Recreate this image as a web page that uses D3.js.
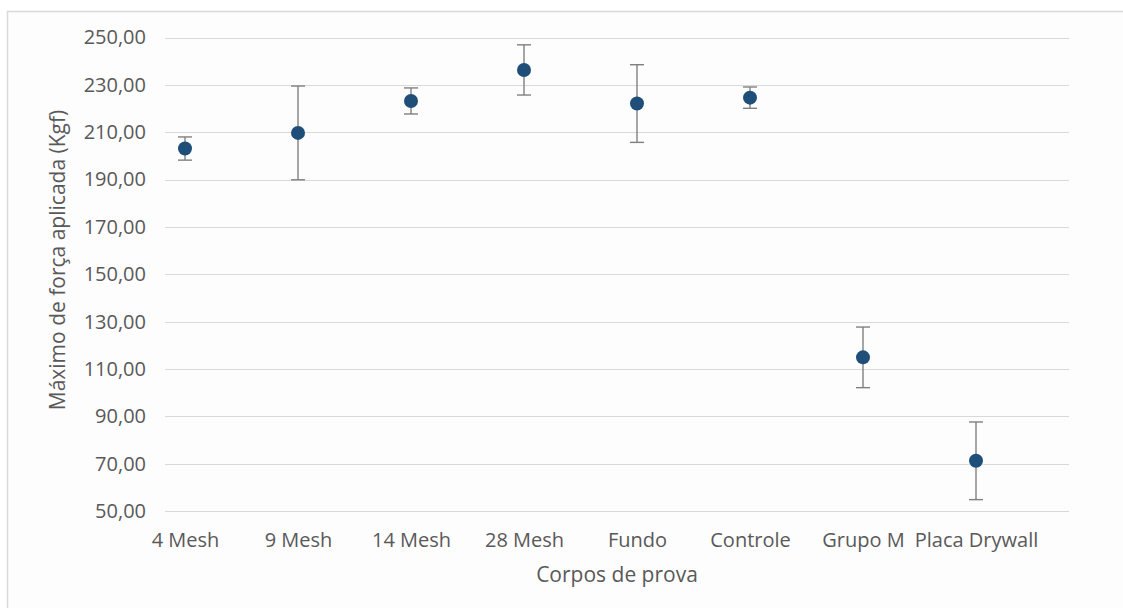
<!DOCTYPE html>
<html>
<head>
<meta charset="utf-8">
<script src="https://cdn.jsdelivr.net/npm/d3@7"></script>
<style>
  html, body { margin: 0; padding: 0; background: #ffffff; }
  svg text { font-family: "Open Sans", "Liberation Sans", sans-serif; fill: #595959; }
</style>
</head>
<body>
<svg id="chart" width="1123" height="608"></svg>
<script>
// Test specimens and their peak applied force (mean ± standard deviation)
const categories = ["4 Mesh", "9 Mesh", "14 Mesh", "28 Mesh", "Fundo", "Controle", "Grupo M", "Placa Drywall"];
const means = [203.1, 209.7, 223.2, 236.3, 222.1, 224.6, 114.9, 71.2];
const errors = [4.9, 19.8, 5.5, 10.6, 16.4, 4.5, 12.8, 16.4];
const yTicks = [50, 70, 90, 110, 130, 150, 170, 190, 210, 230, 250];

const svg = d3.select("#chart");

// chart frame
svg.append("rect")
  .attr("x", 7.5).attr("y", 11.5)
  .attr("width", 1130).attr("height", 610)
  .attr("fill", "#fdfdfd")
  .attr("stroke", "#d9d9d9").attr("stroke-width", 1.5);

const plotLeft = 165, plotRight = 1069;
const y = d3.scaleLinear().domain([50, 250]).range([511, 37.5]);
const x = d3.scalePoint().domain(categories).range([185, 976]);

// horizontal gridlines
svg.append("g").selectAll("line").data(yTicks).join("line")
  .attr("x1", plotLeft).attr("x2", plotRight)
  .attr("y1", d => Math.round(y(d)) + 0.5).attr("y2", d => Math.round(y(d)) + 0.5)
  .attr("stroke", "#d9d9d9").attr("stroke-width", 1.2);

const fmt = d => d.toFixed(2).replace(".", ",");

// y axis labels
const yAxis = d3.axisLeft(y).tickValues(yTicks).tickFormat(fmt).tickSize(0).tickPadding(0);
svg.append("g").attr("transform", "translate(146,0)").call(yAxis)
  .call(g => g.select(".domain").remove())
  .selectAll("text")
  .style("font-size", "20px");

// x axis labels
const xAxis = d3.axisBottom(x).tickSize(0).tickPadding(0);
svg.append("g").attr("transform", "translate(0,533)").call(xAxis)
  .call(g => g.select(".domain").remove())
  .selectAll("text")
  .style("font-size", "20px");

svg.selectAll(".tick text").attr("fill", "#595959").style("font-family", "'Open Sans', sans-serif");

// error bars
const eb = svg.append("g").attr("stroke", "#808080").attr("stroke-width", 1.4);
categories.forEach((c, i) => {
  const cx = x(c);
  const top = y(means[i] + errors[i]);
  const bot = y(means[i] - errors[i]);
  eb.append("line").attr("x1", cx).attr("x2", cx).attr("y1", top).attr("y2", bot);
  eb.append("line").attr("x1", cx - 7).attr("x2", cx + 7).attr("y1", top).attr("y2", top);
  eb.append("line").attr("x1", cx - 7).attr("x2", cx + 7).attr("y1", bot).attr("y2", bot);
});

// mean markers
svg.append("g").selectAll("circle").data(categories).join("circle")
  .attr("cx", d => x(d))
  .attr("cy", (d, i) => y(means[i]))
  .attr("r", 7)
  .attr("fill", "#1f4e79");

// axis titles
svg.append("text")
  .attr("transform", "translate(65,260) rotate(-90)")
  .attr("text-anchor", "middle")
  .style("font-size", "21px")
  .text("Máximo de força aplicada (Kgf)");

svg.append("text")
  .attr("x", 617).attr("y", 582)
  .attr("text-anchor", "middle")
  .style("font-size", "21px")
  .text("Corpos de prova");
</script>
</body>
</html>
